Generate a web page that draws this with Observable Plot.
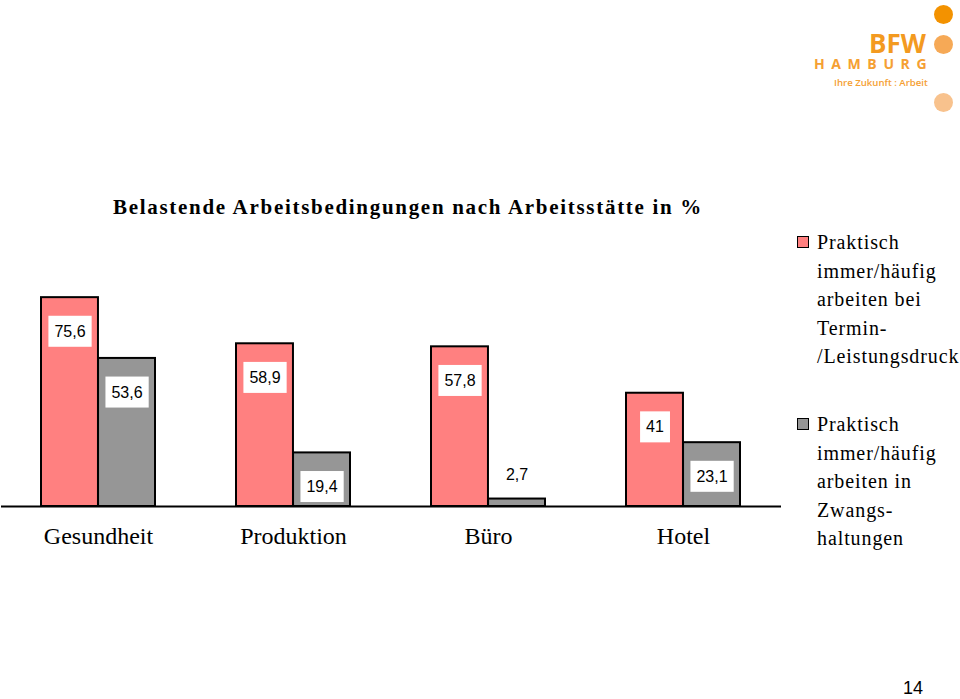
<!DOCTYPE html>
<html><head><meta charset="utf-8">
<script src="https://cdn.jsdelivr.net/npm/d3@7"></script>
<script src="https://cdn.jsdelivr.net/npm/@observablehq/plot@0.6"></script>
<style>
body{margin:0;background:#fff;}
#page{position:relative;width:960px;height:699px;overflow:hidden;background:#fff;}
#chart{position:absolute;left:0;top:0;}
.title{position:absolute;left:113px;top:195px;font:bold 21px "Liberation Serif",serif;letter-spacing:1.7px;white-space:nowrap;color:#000;}
.leg{position:absolute;left:797px;font:20px "Liberation Serif",serif;line-height:28.5px;letter-spacing:0.9px;color:#000;}
.leg .sw{position:absolute;left:0;top:8px;width:10px;height:10px;border:1.5px solid #000;}
.leg .tx{margin-left:20px;white-space:nowrap;}
.logo{position:absolute;font-family:"Open Sans","DejaVu Sans",sans-serif;line-height:1;white-space:nowrap;}
.dot{position:absolute;border-radius:50%;width:19px;height:19px;}
.pg{position:absolute;left:903px;top:678px;font:18px "Liberation Sans",sans-serif;}
</style></head>
<body>
<div id="page">
  <div id="chart"></div>
  <div class="title">Belastende Arbeitsbedingungen nach Arbeitsstätte in %</div>
  <div id="legend"></div>
  <div class="dot" style="left:934px;top:5px;background:#f39200"></div>
  <div class="dot" style="left:934px;top:35px;background:#f6a956"></div>
  <div class="dot" style="left:934px;top:93px;background:#f8c28d"></div>
  <div class="logo" style="left:869px;top:30px;font-size:26px;font-weight:bold;color:#f39a20">BFW</div>
  <div class="logo" style="left:814px;top:57px;font-size:14px;font-weight:bold;letter-spacing:6.6px;color:#f5a033">HAMBURG</div>
  <div class="logo" style="left:834px;top:78px;font-size:9.6px;font-weight:600;color:#f5a033">Ihre Zukunft : Arbeit</div>
  <div class="pg">14</div>
</div>
<script>
const categories = ["Gesundheit", "Produktion", "Büro", "Hotel"];
const seriesNames = ["Praktisch immer/häufig arbeiten bei Termin-/Leistungsdruck", "Praktisch immer/häufig arbeiten in Zwangshaltungen"];
const legendLines = [["Praktisch", "immer/häufig", "arbeiten bei", "Termin-", "/Leistungsdruck"], ["Praktisch", "immer/häufig", "arbeiten in", "Zwangs-", "haltungen"]];
const termindruck = [75.6, 58.9, 57.8, 41];
const zwangshaltungen = [53.6, 19.4, 2.7, 23.1];
const seriesColors = ["#ff8080", "#969696"];

const fmt = v => String(v).replace(".", ",");
const dataA = categories.map((c, i) => ({category: c, value: termindruck[i]}));
const dataB = categories.map((c, i) => ({category: c, value: zwangshaltungen[i]}));

// layout (styles only)
const W = 960, H = 699, mL = 1, mR = 179, mT = 285, mB = 193;
const padIn = 0.415, padOut = 0.2075;
const step = (W - mL - mR) / (categories.length - padIn + 2 * padOut);
const half = step * (1 - padIn) / 2;   // one bar width
const font = "Liberation Sans, Arial, sans-serif";

function labels(data, side) {
  return [
    Plot.text(data.filter(d => d.value >= 10), {x: "category", y: "value", text: d => fmt(d.value), dx: side * half / 2, dy: 34, fontSize: 16, fontFamily: font, fill: "black", className: "boxed"}),
    Plot.text(data.filter(d => d.value < 10), {x: "category", y: "value", text: d => fmt(d.value), dx: side * half / 2, dy: -24, fontSize: 16, fontFamily: font, fill: "black"})
  ];
}

const plot = Plot.plot({
  width: W, height: H,
  marginLeft: mL, marginRight: mR, marginTop: mT, marginBottom: mB,
  style: {background: "transparent"},
  x: {domain: categories, paddingInner: padIn, paddingOuter: padOut, label: null},
  y: {domain: [0, 80], axis: null},
  marks: [
    Plot.barY(dataA, {x: "category", y: "value", fill: seriesColors[0], stroke: "black", strokeWidth: 2, insetLeft: 0, insetRight: half}),
    Plot.barY(dataB, {x: "category", y: "value", fill: seriesColors[1], stroke: "black", strokeWidth: 2, insetLeft: half, insetRight: 0}),
    ...labels(dataA, -1),
    ...labels(dataB, 1),
    Plot.ruleY([0], {stroke: "black", strokeWidth: 2}),
    Plot.axisX({anchor: "bottom", tickSize: 0, tickPadding: 20, fontSize: 24, fontFamily: "Liberation Serif, serif", label: null, fill: "black"})
  ]
});
document.getElementById("chart").appendChild(plot);

// white boxes behind the value labels that sit inside the bars
const boxed = new Set([...termindruck, ...zwangshaltungen].filter(v => v >= 10).map(fmt));
Array.from(plot.querySelectorAll("text")).filter(t => boxed.has(t.textContent.trim()) && !t.closest('[aria-label^="x-axis"]')).forEach(t => {
  const b = t.getBBox();
  const r = document.createElementNS("http://www.w3.org/2000/svg", "rect");
  r.setAttribute("x", b.x - 6);
  r.setAttribute("y", b.y - 7);
  r.setAttribute("width", b.width + 12);
  r.setAttribute("height", b.height + 14);
  r.setAttribute("fill", "white");
  if (t.getAttribute("transform")) r.setAttribute("transform", t.getAttribute("transform"));
  t.parentNode.insertBefore(r, t);
});

// legend
const leg = document.getElementById("legend");
const tops = [228, 410];
legendLines.forEach((lines, i) => {
  const d = document.createElement("div");
  d.className = "leg";
  d.style.top = tops[i] + "px";
  d.innerHTML = `<div class="sw" style="background:${seriesColors[i]}"></div><div class="tx">${lines.join("<br>")}</div>`;
  leg.appendChild(d);
});
</script>
</body></html>
